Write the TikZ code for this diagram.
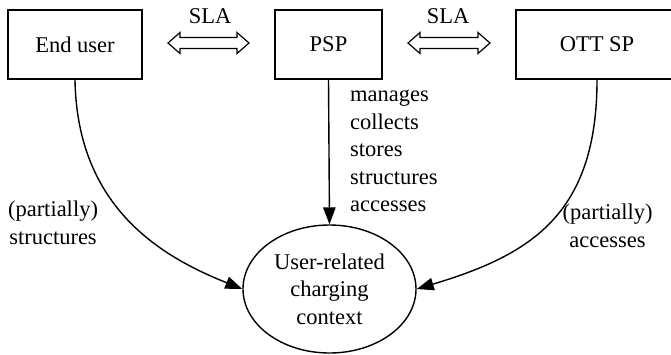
\documentclass[tikz,border=0pt]{standalone}
\usepackage{fontspec}
\setmainfont{Liberation Serif}
\usetikzlibrary{arrows.meta,shapes.geometric}
\begin{document}
\begin{tikzpicture}[x=1pt,y=-1pt,
  every node/.style={font=\fontsize{22.5}{27.5}\selectfont},
  box/.style={draw,line width=1.4pt,inner sep=0pt,minimum height=69pt},
  conn/.style={line width=1.4pt,-{Triangle[length=17pt,width=12.5pt]}},
  lbl/.style={inner sep=0pt,align=center},
  dbl/.style={draw,line width=1.2pt,fill=white}]
\useasboundingbox (0,0) rectangle (671,354);
\node[box,minimum width=134pt] (eu) at (75,44.5) {End user};
\node[box,minimum width=107pt] (psp) at (328.5,44.5) {PSP};
\node[box,minimum width=162pt] (ott) at (597,44.5) {OTT SP};
\node[draw,ellipse,line width=1.4pt,inner sep=0pt,minimum width=173pt,minimum height=128pt,align=center] (ctx) at (329.5,289) {User-related\\charging\\context};
% SLA double arrows
\draw[dbl] (168,43) -- (180,32.5) -- (180,37.5) -- (237,37.5) -- (237,32.5) -- (249,43) -- (237,53.5) -- (237,48.5) -- (180,48.5) -- (180,53.5) -- cycle;
\draw[dbl] (408,43) -- (420,32.5) -- (420,37.5) -- (478,37.5) -- (478,32.5) -- (490,43) -- (478,53.5) -- (478,48.5) -- (420,48.5) -- (420,53.5) -- cycle;
\node[lbl] (sla1) at (210,16) {SLA};
\node[lbl] (sla2) at (448,16) {SLA};
% connectors
\draw[conn] (eu.south) .. controls (77,210) and (165,258) .. (ctx.west);
\draw[conn] (psp.south) -- (ctx.north);
\draw[conn] (ott.south) .. controls (597,215) and (530,255) .. (ctx.east);
% labels
\node[lbl,align=left,anchor=west] (ops) at (350,151) {manages\\collects\\stores\\structures\\accesses};
\node[lbl] (leu) at (53,223) {(partially)\\structures};
\node[lbl] (lott) at (607.5,226) {(partially)\\accesses};
\end{tikzpicture}
\end{document}
